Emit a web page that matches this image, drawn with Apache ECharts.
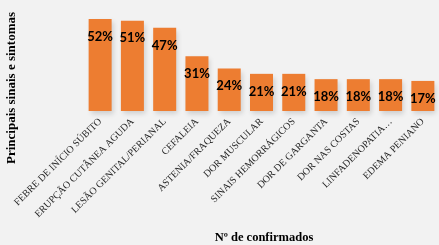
<!DOCTYPE html>
<html><head><meta charset="utf-8">
<script src="https://cdn.jsdelivr.net/npm/echarts@6/dist/echarts.min.js"></script>
<style>html,body{margin:0;padding:0;background:#f2f2f2}#c{width:439px;height:245px}</style>
</head><body><div id="c"></div>
<script>
const categories = ["FEBRE DE INÍCIO SÚBITO","ERUPÇÃO CUTÂNEA AGUDA","LESÃO GENITAL/PERIANAL","CEFALEIA","ASTENIA/FRAQUEZA","DOR MUSCULAR","SINAIS HEMORRÁGICOS","DOR DE GARGANTA","DOR NAS COSTAS","LINFADENOPATIA…","EDEMA PENIANO"];
const values = [52,51,47,31,24,21,21,18,18,18,17];
const yTitle = "Principais sinais e sintomas";
const xTitle = "Nº de confirmados";

const chart = echarts.init(document.getElementById('c'));
chart.setOption({
  backgroundColor: '#f2f2f2',
  animation: false,
  grid: {left: 84, right: -3, top: 19, bottom: 134, containLabel: false},
  xAxis: {
    type: 'category', data: categories,
    axisLine: {show: false}, axisTick: {show: false},
    axisLabel: {rotate: 45, interval: 0, margin: 9, color: '#262626',
      fontFamily: 'Liberation Serif', fontSize: 10}
  },
  yAxis: {type: 'value', min: 0, max: 52, show: false},
  graphic: [
    {type: 'text', x: 12, y: 88, rotation: Math.PI/2,
     style: {text: yTitle, fontFamily: 'Liberation Serif', fontWeight: 'bold', fontSize: 13, fill: '#000', align: 'center', verticalAlign: 'middle'}},
    {type: 'text', x: 264, y: 238,
     style: {text: xTitle, fontFamily: 'Liberation Serif', fontWeight: 'bold', fontSize: 12.5, fill: '#000', align: 'center', verticalAlign: 'middle'}}
  ],
  series: [{
    type: 'bar', data: values, barWidth: 23,
    itemStyle: {color: '#ed7d31', shadowColor: 'rgba(0,0,0,0.15)', shadowBlur: 5, shadowOffsetX: 2, shadowOffsetY: 3},
    label: {show: true, position: 'insideTop', distance: 11, formatter: '{c}%',
      fontFamily: 'Lato', fontWeight: 'bold', fontSize: 13, color: '#000'}
  }]
});
</script></body></html>
